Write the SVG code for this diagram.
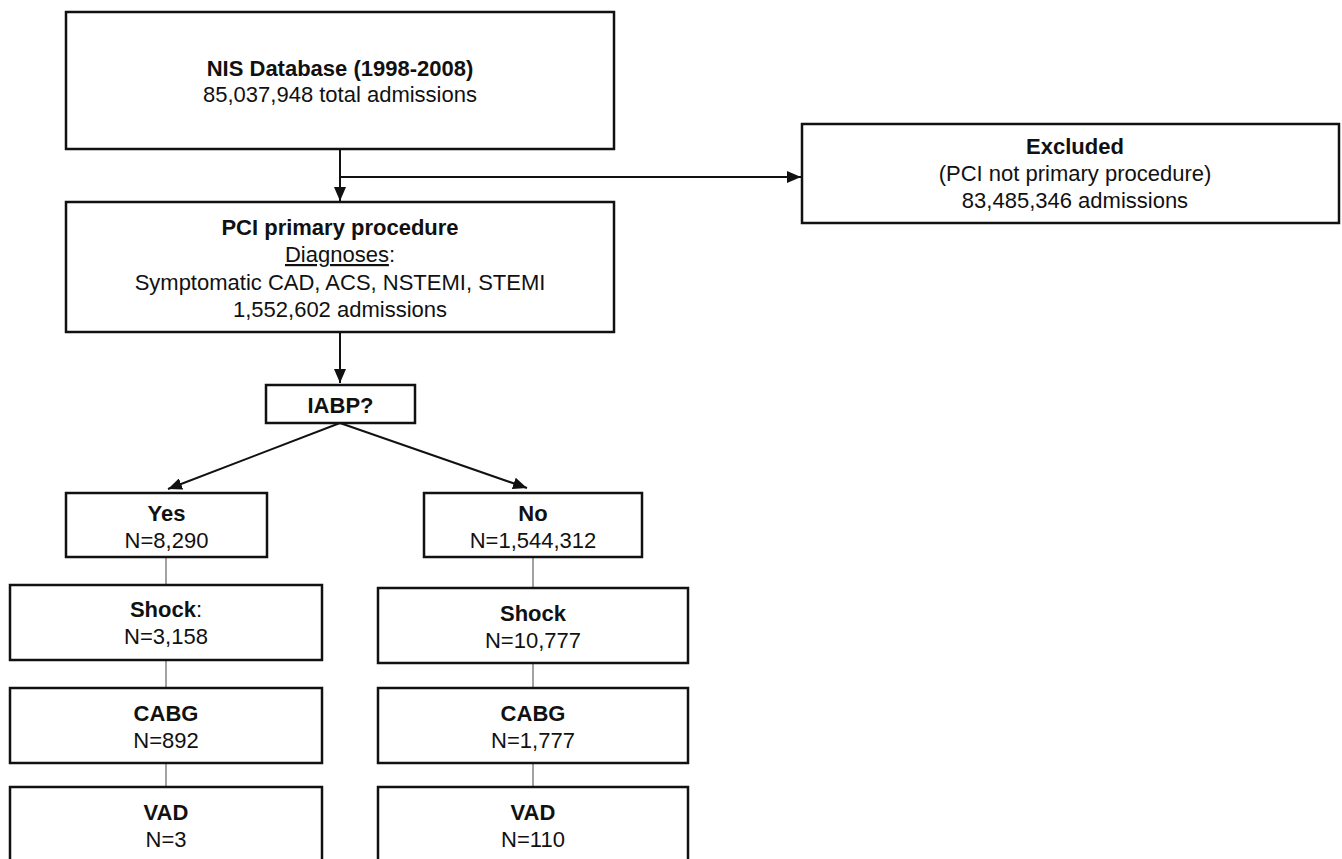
<svg xmlns="http://www.w3.org/2000/svg" width="1342" height="859" viewBox="0 0 1342 859">
<defs>
<style>
.box{fill:#fff;stroke:#111;stroke-width:2.5}
.t{font-family:"Liberation Sans",Arial,sans-serif;font-size:22px;fill:#111;text-anchor:middle}
.b{font-weight:bold}
.main{stroke:#111;stroke-width:2;fill:none}
.thin{stroke:#444;stroke-width:1;fill:none}
</style>
<marker id="ah" markerUnits="userSpaceOnUse" markerWidth="14" markerHeight="12" refX="14" refY="6" orient="auto">
<path d="M0,0 L14,6 L0,12 z" fill="#111"/>
</marker>
</defs>
<rect width="1342" height="859" fill="#fff"/>
<g id="connectors">
<line class="main" x1="340" y1="149" x2="340" y2="201" marker-end="url(#ah)"/>
<line class="main" x1="340" y1="177" x2="801" y2="177" marker-end="url(#ah)"/>
<line class="main" x1="340" y1="332" x2="340" y2="383" marker-end="url(#ah)"/>
<line class="main" x1="340" y1="423" x2="168" y2="489" marker-end="url(#ah)"/>
<line class="main" x1="340" y1="423" x2="527" y2="488" marker-end="url(#ah)"/>
<line class="thin" x1="166" y1="557" x2="166" y2="585"/>
<line class="thin" x1="166" y1="660" x2="166" y2="688"/>
<line class="thin" x1="166" y1="763" x2="166" y2="787"/>
<line class="thin" x1="533" y1="557" x2="533" y2="588"/>
<line class="thin" x1="533" y1="663" x2="533" y2="688"/>
<line class="thin" x1="533" y1="763" x2="533" y2="787"/>
</g>
<g id="nis">
<rect class="box" x="66" y="12" width="548" height="137"/>
<text class="t b" x="340" y="76">NIS Database (1998-2008)</text>
<text class="t" x="340" y="102">85,037,948 total admissions</text>
</g>
<g id="excluded">
<rect class="box" x="802" y="124" width="537" height="99"/>
<text class="t b" x="1075" y="154">Excluded</text>
<text class="t" x="1075" y="181">(PCI not primary procedure)</text>
<text class="t" x="1075" y="208">83,485,346 admissions</text>
</g>
<g id="pci">
<rect class="box" x="66" y="202" width="548" height="130"/>
<text class="t b" x="340" y="235">PCI primary procedure</text>
<text class="t" x="340" y="262"><tspan text-decoration="underline">Diagnoses</tspan>:</text>
<text class="t" x="340" y="290">Symptomatic CAD, ACS, NSTEMI, STEMI</text>
<text class="t" x="340" y="317">1,552,602 admissions</text>
</g>
<g id="iabp">
<rect class="box" x="266" y="385" width="149" height="38"/>
<text class="t b" x="340.5" y="413">IABP?</text>
</g>
<g id="yes">
<rect class="box" x="66" y="493" width="201" height="64"/>
<text class="t b" x="166.5" y="521">Yes</text>
<text class="t" x="166.5" y="548">N=8,290</text>
</g>
<g id="no">
<rect class="box" x="424" y="493" width="218" height="64"/>
<text class="t b" x="533" y="521">No</text>
<text class="t" x="533" y="548">N=1,544,312</text>
</g>
<g id="shock-yes">
<rect class="box" x="10" y="585" width="312" height="75"/>
<text class="t" x="166" y="617"><tspan class="b">Shock</tspan>:</text>
<text class="t" x="166" y="644">N=3,158</text>
</g>
<g id="shock-no">
<rect class="box" x="378" y="588" width="310" height="75"/>
<text class="t b" x="533" y="621">Shock</text>
<text class="t" x="533" y="648">N=10,777</text>
</g>
<g id="cabg-yes">
<rect class="box" x="10" y="688" width="312" height="75"/>
<text class="t b" x="166" y="721">CABG</text>
<text class="t" x="166" y="748">N=892</text>
</g>
<g id="cabg-no">
<rect class="box" x="378" y="688" width="310" height="75"/>
<text class="t b" x="533" y="721">CABG</text>
<text class="t" x="533" y="748">N=1,777</text>
</g>
<g id="vad-yes">
<rect class="box" x="10" y="787" width="312" height="80"/>
<text class="t b" x="166" y="820">VAD</text>
<text class="t" x="166" y="847">N=3</text>
</g>
<g id="vad-no">
<rect class="box" x="378" y="787" width="310" height="80"/>
<text class="t b" x="533" y="820">VAD</text>
<text class="t" x="533" y="847">N=110</text>
</g>
</svg>
